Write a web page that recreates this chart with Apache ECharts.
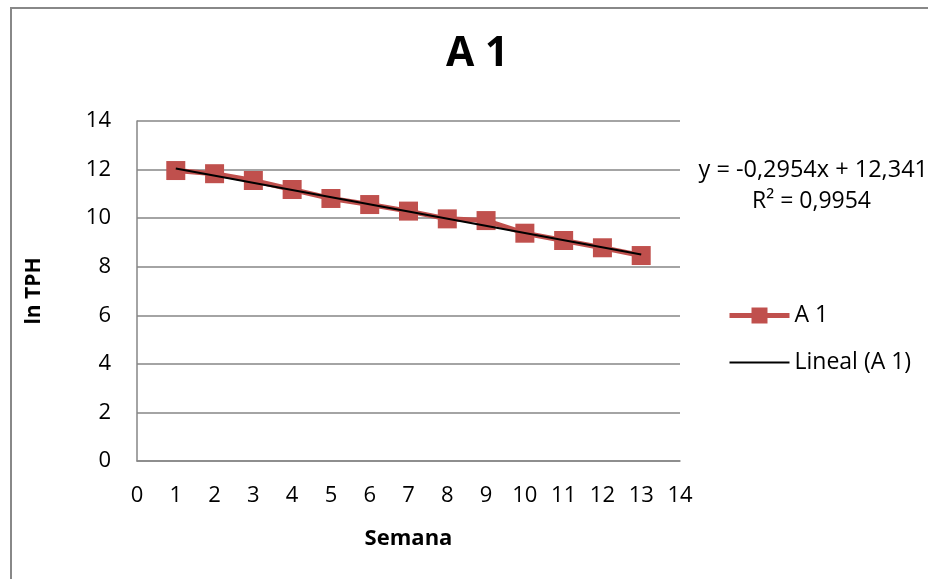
<!DOCTYPE html>
<html>
<head>
<meta charset="utf-8">
<script src="https://cdn.jsdelivr.net/npm/echarts@6/dist/echarts.min.js"></script>
<style>
html,body{margin:0;padding:0;background:#fff;}
#c{width:928px;height:579px;}
</style>
</head>
<body>
<div id="c"></div>
<script>
var weeks = [1,2,3,4,5,6,7,8,9,10,11,12,13];
var lnTPH = [11.96,11.83,11.55,11.18,10.81,10.56,10.29,9.97,9.90,9.38,9.08,8.78,8.46];
var trendX = [1,13];
var trendY = [12.046,8.501];
var seriesName = 'A 1';
var trendName = 'Lineal (A 1)';
var eqText = 'y = -0,2954x + 12,341';
var r2Text = 'R² = 0,9954';

var FONT = 'Open Sans';
var chart = echarts.init(document.getElementById('c'));
chart.setOption({
  backgroundColor: '#ffffff',
  animation: false,
  title: {
    text: 'A 1', left: 441, top: 29,
    textStyle: {fontFamily: FONT, fontWeight: 'bold', fontSize: 41, color: '#000'}
  },
  grid: {left: 137, right: 248, top: 121, bottom: 118},
  xAxis: {
    type: 'value', min: 0, max: 14, interval: 1,
    name: 'Semana', nameLocation: 'middle', nameGap: 67,
    nameTextStyle: {fontFamily: FONT, fontWeight: 'bold', fontSize: 22, color: '#000'},
    axisLine: {show: true, lineStyle: {color: '#868686', width: 1.5}},
    axisTick: {show: false},
    splitLine: {show: false},
    axisLabel: {fontFamily: FONT, fontSize: 22, color: '#000', margin: 24}
  },
  yAxis: {
    type: 'value', min: 0, max: 14, interval: 2,
    name: 'ln TPH', nameLocation: 'middle', nameGap: 92, nameRotate: 90,
    nameTextStyle: {fontFamily: FONT, fontWeight: 'bold', fontSize: 21, color: '#000'},
    axisLine: {show: true, lineStyle: {color: '#868686', width: 1.5}},
    axisTick: {show: false},
    splitLine: {show: true, lineStyle: {color: '#868686', width: 1.5}},
    axisLabel: {fontFamily: FONT, fontSize: 22, color: '#000', margin: 26}
  },
  legend: {
    orient: 'vertical', left: 722, top: 299, itemGap: 24,
    itemWidth: 60, itemHeight: 20,
    textStyle: {fontFamily: FONT, fontSize: 23, color: '#000'},
    data: [
      {name: seriesName, lineStyle: {width: 5, color: '#C0504D'}},
      {name: trendName, itemStyle: {opacity: 0}, lineStyle: {width: 2, color: '#000'}}
    ]
  },
  series: [
    {
      name: seriesName, type: 'line',
      data: weeks.map(function(w,i){return [w, lnTPH[i]];}),
      symbol: 'rect', symbolSize: 19,
      lineStyle: {color: '#C0504D', width: 5},
      itemStyle: {color: '#C0504D'},
      z: 2
    },
    {
      name: trendName, type: 'line',
      data: trendX.map(function(x,i){return [x, trendY[i]];}),
      symbol: 'none',
      lineStyle: {color: '#000', width: 2},
      itemStyle: {color: '#000'},
      z: 3
    }
  ],
  graphic: [
    {type: 'rect', shape: {x: 11, y: 8, width: 1000, height: 700},
     style: {fill: 'none', stroke: '#888888', lineWidth: 2}, silent: true},
    {type: 'text', right: 0, top: 158,
     style: {text: eqText, fontFamily: FONT, fontSize: 23.5, fill: '#000', textAlign: 'right'}},
    {type: 'text', left: 752, top: 190,
     style: {text: r2Text, fontFamily: FONT, fontSize: 23, fill: '#000'}}
  ]
});
</script>
</body>
</html>
